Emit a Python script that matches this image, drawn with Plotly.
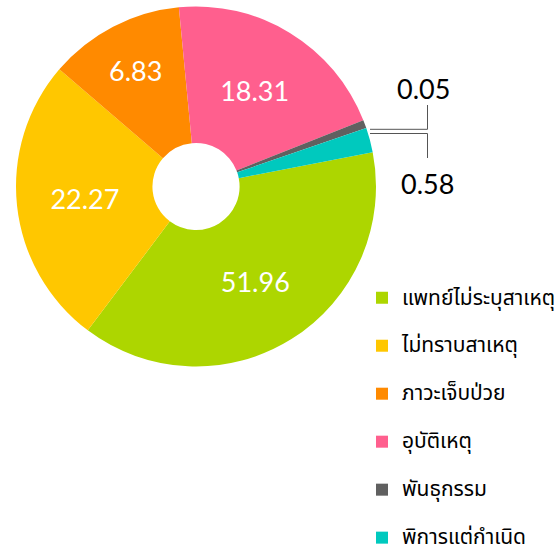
import plotly.graph_objects as go

# categories (legend order = slice order, clockwise)
categories = ["แพทย์ไม่ระบุสาเหตุ", "ไม่ทราบสาเหตุ", "ภาวะเจ็บป่วย", "อุบัติเหตุ", "พันธุกรรม", "พิการแต่กำเนิด"]
# slice sizes as drawn in the picture (angular share, in percent)
slice_share = [38.3, 26.0, 12.2, 20.5, 0.75, 2.2]
# the numbers printed on the chart
label_values = ["51.96", "22.27", "6.83", "18.31", "0.05", "0.58"]
colors = ["#ADD600", "#FFC700", "#FF8A00", "#FF5F8E", "#606060", "#00C9BE"]

THAI = "Noto Sans Thai, Kanit, Prompt, Sarabun, Loma, Garuda, Norasi, sans-serif"
NUM = "Lato, Roboto, sans-serif"

inside_pos = ["inside", "inside", "inside", "inside", "none", "none"]

fig = go.Figure()
fig.add_trace(go.Pie(
    labels=[f"<span style='font-size:21px'>{c}</span><br> " for c in categories],
    values=slice_share,
    text=label_values,
    textinfo="text",
    textposition=inside_pos,
    insidetextorientation="horizontal",
    textfont=dict(family=NUM, size=27, color="white"),
    marker=dict(colors=colors, line=dict(width=0)),
    hole=0.242,
    sort=False,
    direction="clockwise",
    rotation=79,
    domain=dict(x=[16/554, 376/554], y=[1-366.5/552, 1-6.5/552]),
    hovertext=categories,
    hoverinfo="text",
))

# small-slice outside labels with bracket leader lines
fig.add_annotation(x=423/554, y=1-88/552, xref="paper", yref="paper", text=label_values[4],
                   xanchor="center", yanchor="middle",
                   showarrow=False, font=dict(family=NUM, size=27, color="black"))
fig.add_annotation(x=427/554, y=1-183/552, xref="paper", yref="paper", text=label_values[5],
                   xanchor="center", yanchor="middle",
                   showarrow=False, font=dict(family=NUM, size=27, color="black"))
line_style = dict(color="#555555", width=1)
for (x0, y0, x1, y1) in [(370, 129.3, 427.5, 129.3), (427.5, 129.3, 427.5, 105),
                         (370, 133.5, 427.5, 133.5), (427.5, 133.5, 427.5, 158)]:
    fig.add_shape(type="line", xref="paper", yref="paper",
                  x0=x0/554, x1=x1/554, y0=1-y0/552, y1=1-y1/552, line=line_style)

fig.update_layout(
    width=554, height=552,
    margin=dict(l=0, r=0, t=0, b=0, autoexpand=False),
    paper_bgcolor="white",
    plot_bgcolor="white",
    showlegend=True,
    legend=dict(x=362/554, y=1-280/552, xanchor="left", yanchor="top",
                font=dict(family=THAI, size=17.3, color="black"),
                valign="top", bgcolor="rgba(0,0,0,0)"),
)

fig.write_html("out.html")
